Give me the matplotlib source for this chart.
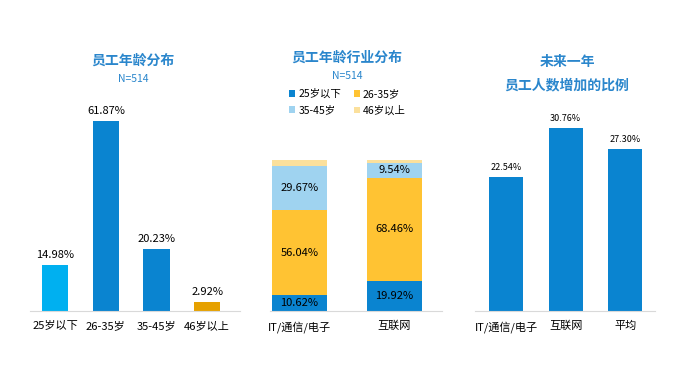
import numpy as np
import matplotlib
matplotlib.use("Agg")
import matplotlib.pyplot as plt

plt.rcParams['font.family'] = ['Noto Sans CJK SC', 'DejaVu Sans']

# 员工年龄分布
age_groups = ['25岁以下', '26-35岁', '35-45岁', '46岁以上']
age_share = [14.98, 61.87, 20.23, 2.92]

# 员工年龄行业分布 (stacked)
industries = ['IT/通信/电子', '互联网']
seg_under25 = [10.62, 19.92]
seg_26_35 = [56.04, 68.46]
seg_35_45 = [29.67, 9.54]
seg_over46 = [3.67, 2.08]

# 未来一年员工人数增加的比例
growth_cats = ['IT/通信/电子', '互联网', '平均']
growth_share = [22.54, 30.76, 27.30]

BLUE = '#0a84d0'
LIGHT = '#00b0f0'
GOLD = '#e6a100'
YELLOW = '#ffc333'
SKY = '#9fd3f0'
PALE = '#fbe09c'
TITLE = '#2a86cc'

W, H = 681, 366
fig = plt.figure(figsize=(W / 100, H / 100), dpi=100)


def px_axes(x0, x1, top, base=311):
    return fig.add_axes([x0 / W, (H - base) / H, (x1 - x0) / W, (base - top) / H])


def style(ax):
    for s in ['top', 'right', 'left']:
        ax.spines[s].set_visible(False)
    ax.spines['bottom'].set_color('#d9d9d9')
    ax.set_yticks([])
    ax.tick_params(axis='x', length=0, pad=7, labelsize=8)


# panel 1
ax1 = px_axes(30, 240, 311 - 70 * 3.07)
x1 = np.arange(len(age_groups))
bars = ax1.bar(x1, age_share, width=0.515, color=[LIGHT, BLUE, BLUE, GOLD])
for b, v in zip(bars, age_share):
    ax1.text(b.get_x() + b.get_width() / 2, v + 1.5, f'{v:.2f}%', ha='center',
             va='bottom', fontsize=8)
ax1.set_xticks(x1)
ax1.set_xticklabels(age_groups)
ax1.set_xlim(-0.5, 3.65)
ax1.set_ylim(0, 70)
style(ax1)
fig.text(133 / W, 1 - 61 / H, '员工年龄分布', ha='center', va='center',
         fontsize=10, fontweight='bold', color=TITLE)
fig.text(133 / W, 1 - 79 / H, 'N=514', ha='center', va='center',
         fontsize=7.5, color=TITLE)

# panel 2
ax2 = px_axes(270, 442, 160)
x2 = np.arange(len(industries))
bw = 0.58
segs = [seg_under25, seg_26_35, seg_35_45, seg_over46]
cols = [BLUE, YELLOW, SKY, PALE]
names = ['25岁以下', '26-35岁', '35-45岁', '46岁以上']
bottom = np.zeros(len(industries))
handles = []
for k, (vals, c, n) in enumerate(zip(segs, cols, names)):
    bc = ax2.bar(x2, vals, bw, bottom=bottom, color=c, label=n)
    handles.append(bc)
    if k < 3:
        for xi, v, b0 in zip(x2, vals, bottom):
            ax2.text(xi, b0 + v / 2, f'{v:.2f}%', ha='center', va='center',
                     fontsize=8)
    bottom = bottom + np.array(vals)
ax2.set_xticks(x2)
ax2.set_xticklabels(industries)
ax2.set_xlim(-0.31, 1.5)
ax2.set_ylim(0, 100)
style(ax2)
fig.text(347 / W, 1 - 58 / H, '员工年龄行业分布', ha='center', va='center',
         fontsize=10, fontweight='bold', color=TITLE)
fig.text(347 / W, 1 - 76 / H, 'N=514', ha='center', va='center',
         fontsize=7.5, color=TITLE)
order = [0, 2, 1, 3]
fig.legend([handles[i] for i in order], [names[i] for i in order], ncol=2,
           loc='upper left', bbox_to_anchor=(289 / W, 1 - 89 / H),
           frameon=False, fontsize=7.5, handlelength=0.6, handleheight=0.6,
           handletextpad=0.3, columnspacing=1.2, labelspacing=0.6,
           borderaxespad=0, borderpad=0)

# panel 3
ax3 = px_axes(475, 655, 311 - 35 * 5.95)
x3 = np.arange(len(growth_cats))
bars3 = ax3.bar(x3, growth_share, width=0.57, color=BLUE)
for b, v in zip(bars3, growth_share):
    ax3.text(b.get_x() + b.get_width() / 2, v + 0.8, f'{v:.2f}%', ha='center',
             va='bottom', fontsize=6.5)
ax3.set_xticks(x3)
ax3.set_xticklabels(growth_cats)
ax3.set_xlim(-0.52, 2.5)
ax3.set_ylim(0, 35)
style(ax3)
fig.text(567 / W, 1 - 62 / H, '未来一年', ha='center', va='center',
         fontsize=10, fontweight='bold', color=TITLE)
fig.text(567 / W, 1 - 85 / H, '员工人数增加的比例', ha='center', va='center',
         fontsize=10, fontweight='bold', color=TITLE)

fig.savefig('out.png', dpi=100)
